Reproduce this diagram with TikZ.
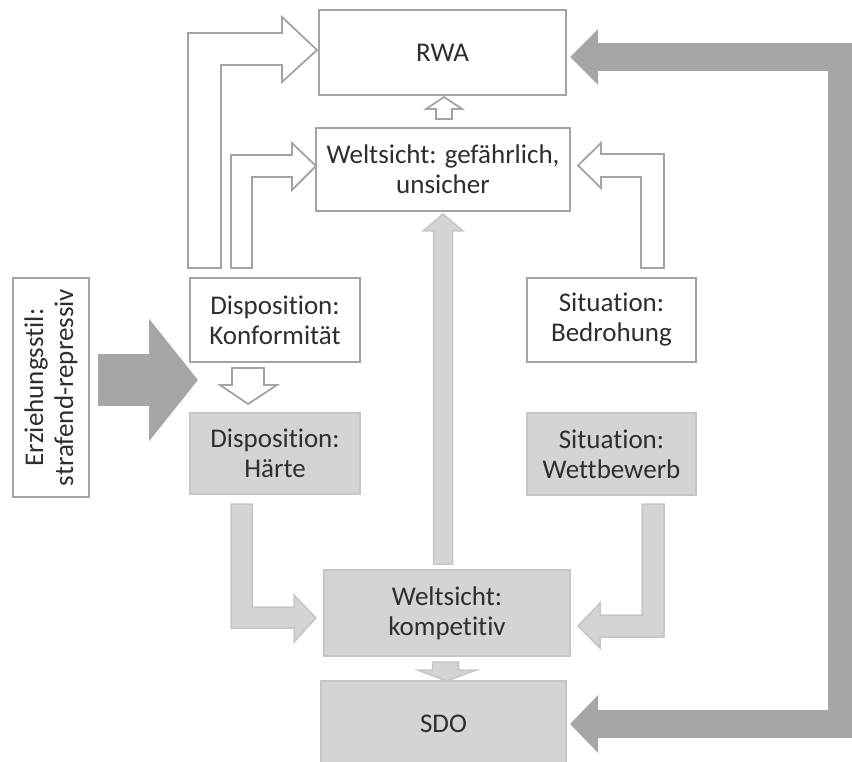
\documentclass[tikz,border=0pt]{standalone}
\usepackage{fontspec}
\setmainfont{Carlito}[Ligatures=NoCommon]
\usepackage{tikz}
\usetikzlibrary{arrows.meta, positioning, calc}
\definecolor{boxgray}{HTML}{D4D4D4}
\definecolor{edgegray}{HTML}{A3A3A3}
\definecolor{paleedge}{HTML}{C6C6C6}
\definecolor{heavygray}{HTML}{A6A6A6}

\begin{document}
\begin{tikzpicture}[
    x=1pt, y=-1pt,
    box/.style={draw=edgegray, line width=2pt, fill=white, align=center, inner sep=0pt,
        text=black!82, font=\fontsize{27}{30}\selectfont},
    greybox/.style={box, draw=paleedge, fill=boxgray},
    hollow/.style={draw=edgegray, line width=1.8pt, fill=white, line join=miter},
    pale/.style={draw=paleedge, line width=1.5pt, fill=boxgray, line join=miter},
    heavy/.style={draw=none, fill=heavygray},
]
\useasboundingbox (0,0) rectangle (852,762);

% Boxes
\node[box, minimum width=247, minimum height=85] (rwa) at (442.5,52.5) {RWA};
\node[box, minimum width=254, minimum height=83] (gef) at (443,169.5) {Weltsicht: gefährlich,\\unsicher};
\node[box, minimum width=170, minimum height=84] (konf) at (275,320) {Disposition:\\Konformität};
\node[box, minimum width=169, minimum height=84] (bedr) at (611.5,320) {Situation:\\Bedrohung};
\node[greybox, minimum width=170, minimum height=81] (haerte) at (275,453.5) {Disposition:\\Härte};
\node[greybox, minimum width=169, minimum height=82] (wettb) at (611.5,454) {Situation:\\Wettbewerb};
\node[greybox, minimum width=246, minimum height=86] (komp) at (447,613) {Weltsicht:\\kompetitiv};
\node[greybox, minimum width=245, minimum height=86] (sdo) at (443.5,724) {SDO};
\node[box, rotate=90, minimum width=219, minimum height=76] (erz) at (51,387.5) {Erziehungsstil:\\strafend-repressiv};

% Hollow arrows (upper half)
\draw[hollow, shift={(rwa.west)}] (-130,215.5) -- (-130,-19.5) -- (-36,-19.5) -- (-36,-35.5)
    -- (-1,-2.5) -- (-36,29.5) -- (-36,12.5) -- (-97,12.5) -- (-97,215.5) -- cycle;
\draw[hollow, shift={(gef.west)}] (-84,98.5) -- (-84,-14.5) -- (-23,-14.5) -- (-23,-26.5)
    -- (1,-3.5) -- (-23,20.5) -- (-23,7.5) -- (-63,7.5) -- (-63,98.5) -- cycle;
\draw[hollow, shift={(gef.east)}] (93,98.5) -- (93,-15.5) -- (30,-15.5) -- (30,-26.5)
    -- (7,-4) -- (30,18.5) -- (30,7.5) -- (70,7.5) -- (70,98.5) -- cycle;
\draw[hollow, shift={(rwa.south)}] (-6.5,23) -- (-6.5,13) -- (-16.5,13) -- (1.5,1)
    -- (19.5,13) -- (9.5,13) -- (9.5,23) -- cycle;
\draw[hollow, shift={(haerte.north)}] (-43,-44) -- (-11,-44) -- (-11,-27) -- (2,-27)
    -- (-27,-8) -- (-55,-27) -- (-43,-27) -- cycle;

% Pale arrows (lower half)
\draw[pale, shift={(gef.south)}] (-9.5,352) -- (-9.5,19) -- (-20,19) -- (0,2)
    -- (20,19) -- (9.5,19) -- (9.5,352) -- cycle;
\draw[pale, shift={(komp.west)}] (-92,-109) -- (-92,15) -- (-29,15) -- (-29,29)
    -- (-7,5) -- (-29,-18) -- (-29,-6) -- (-71,-6) -- (-71,-109) -- cycle;
\draw[pale, shift={(komp.east)}] (93,-109) -- (93,24) -- (29,24) -- (29,35)
    -- (7,13) -- (29,-10) -- (29,2) -- (71,2) -- (71,-109) -- cycle;
\draw[pale, shift={(sdo.north)}] (-11,-18) -- (15,-18) -- (15,-10) -- (33,-10)
    -- (3,1) -- (-26,-10) -- (-11,-10) -- cycle;

% Heavy arrows
\draw[heavygray, line width=52pt, -{Triangle[length=49pt, width=120pt]}]
    ([shift={(8,-7.5)}]erz.south) -- ++(100,0);
\coordinate (back) at (842,0);
\coordinate (rwain) at ([shift={(3,4.5)}]rwa.east);
\coordinate (sdoin) at ([xshift=3pt]sdo.east);
\draw[heavygray, line width=28pt, line join=miter,
    {Triangle[length=28pt, width=54pt]}-{Triangle[length=28pt, width=56pt]}]
    (rwain) -- (rwain -| back) -- (sdoin -| back) -- (sdoin);
\end{tikzpicture}
\end{document}
